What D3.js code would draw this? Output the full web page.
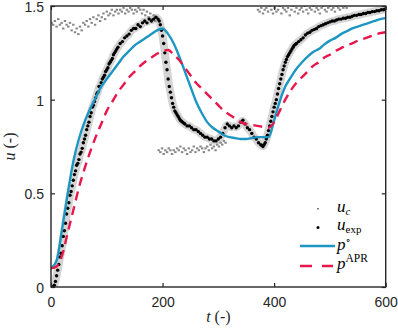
<!DOCTYPE html>
<html><head><meta charset="utf-8">
<script src="https://cdn.jsdelivr.net/npm/d3@7"></script>
<style>body{margin:0;background:#fff}svg{display:block}</style>
</head><body><svg id="c" width="398" height="331"></svg>
<script>
// ---- data ----
const xTicks = [0, 200, 400, 600];
const yTicks = [0, 0.5, 1, 1.5];
const yTickLabels = ["0", "0.5", "1", "1.5"];

// model curves sampled every 10 (t = 0..600)
const modelT = d3.range(0, 601, 10);
const pNom = [0.10,0.14,0.31,0.50,0.67,0.79,0.88,0.95,1.01,1.07,
  1.11,1.15,1.19,1.23,1.26,1.29,1.31,1.33,1.35,1.37,
  1.38,1.35,1.30,1.23,1.15,1.07,0.99,0.93,0.88,0.85,
  0.83,0.81,0.80,0.795,0.79,0.79,0.795,0.80,0.80,0.80,
  0.89,0.99,1.07,1.12,1.165,1.20,1.23,1.255,1.27,1.295,
  1.315,1.33,1.35,1.365,1.38,1.39,1.40,1.41,1.42,1.43,1.435];
const pAPR = [0.10,0.11,0.17,0.29,0.41,0.53,0.63,0.72,0.80,0.87,
  0.94,0.99,1.04,1.08,1.12,1.15,1.18,1.205,1.225,1.245,
  1.26,1.265,1.24,1.21,1.17,1.13,1.09,1.06,1.03,1.00,
  0.97,0.94,0.92,0.90,0.88,0.87,0.865,0.86,0.855,0.85,
  0.88,0.94,1.00,1.05,1.09,1.12,1.15,1.18,1.20,1.225,
  1.24,1.26,1.275,1.29,1.30,1.315,1.325,1.335,1.345,1.355,1.36];

// experimental data: sample times (denser where the response is steep)
const expT = [].concat(d3.range(0, 121, 2), d3.range(124, 193, 4), d3.range(194, 241, 2),
  d3.range(244, 377, 4), d3.range(378, 441, 2), d3.range(444, 601, 4));
const uExp = [
  0.00,0.00,0.00,0.01,0.03,0.06,0.09,0.12,0.16,0.18,
  0.22,0.27,0.30,0.34,0.39,0.42,0.45,0.49,0.51,0.54,
  0.57,0.60,0.62,0.65,0.66,0.68,0.71,0.72,0.74,0.77,
  0.79,0.81,0.84,0.86,0.88,0.91,0.93,0.96,0.97,0.99,
  1.01,1.03,1.04,1.07,1.07,1.09,1.11,1.12,1.13,1.15,
  1.16,1.17,1.19,1.20,1.21,1.22,1.24,1.25,1.26,1.27,
  1.28,
  1.30,1.31,1.33,1.34,1.35,1.37,1.38,1.38,1.40,1.39,1.41,1.42,1.41,1.43,1.42,1.43,1.44,1.43,
  1.42,1.40,1.37,1.34,1.30,1.25,1.20,1.16,1.11,1.07,1.04,1.01,0.98,0.96,0.94,0.93,
  0.92,0.91,0.90,0.89,0.885,0.88,0.875,0.87,
  0.86,0.86,0.85,0.84,0.84,0.83,0.82,0.81,0.80,0.80,0.79,0.79,0.78,0.78,0.79,0.80,0.82,
  0.85,0.87,0.86,0.85,0.86,0.85,0.86,0.88,0.89,0.87,0.85,0.84,0.82,0.80,0.79,0.77,0.76,
  0.755,0.75,0.76,0.77,0.79,0.81,0.835,0.86,0.885,0.91,0.935,0.96,0.98,1.00,1.03,1.06,
  1.085,1.11,1.135,1.16,1.18,1.20,1.215,1.23,1.24,1.25,1.26,1.27,1.28,1.29,1.295,1.30,
  1.31,1.32,1.33,1.345,1.355,1.36,1.37,1.375,1.38,1.39,1.395,1.40,1.405,1.41,1.415,1.42,
  1.42,1.425,1.43,1.43,1.435,1.435,1.44,1.44,1.445,1.45,1.45,1.455,1.455,1.46,1.46,1.465,
  1.465,1.47,1.47,1.475,1.475,1.48,1.48,1.485];

// control input u_c, three visible segments sampled every 3
const ucStart1 = 1, ucSeg1 = [1.41,1.40,1.42,1.39,1.43,1.40,1.41,1.38,1.42,1.40,
  1.39,1.41,1.37,1.40,1.36,1.38,1.35,1.39,1.37,1.41,
  1.40,1.42,1.39,1.43,1.41,1.44,1.40,1.43,1.45,1.42,
  1.44,1.46,1.43,1.47,1.45,1.46,1.48,1.45,1.47,1.48,
  1.46,1.48,1.47,1.49,1.46,1.48,1.47,1.49,1.48,1.46,
  1.48,1.47,1.49,1.48,1.46,1.48,1.45,1.47,1.44,1.46,
  1.43,1.45,1.42,1.44];
const ucStart2 = 193, ucSeg2 = [0.73,0.72,0.74,0.71,0.73,0.72,0.74,0.73,0.71,0.73,
  0.72,0.74,0.73,0.75,0.72,0.74,0.73,0.71,0.74,0.72,
  0.73,0.75,0.72,0.74,0.73,0.75,0.74,0.72,0.74,0.75,
  0.73,0.76,0.74,0.75,0.73,0.76,0.75,0.77,0.76,0.78,0.77];
const ucStart3 = 371, ucSeg3 = [1.48,1.47,1.49,1.46,1.48,1.49,1.47,1.50,1.48,1.46,
  1.49,1.47,1.48,1.50,1.46,1.49,1.48,1.47,1.49,1.45,
  1.48,1.50,1.47,1.49,1.46,1.48,1.49,1.47,1.50,1.48,
  1.46,1.49,1.48,1.50,1.47,1.49,1.48,1.46,1.49,1.50,
  1.48,1.47,1.49,1.50,1.48,1.49,1.47,1.50,1.49,1.48,
  1.50,1.49,1.50,1.49];

// ---- drawing ----
const svg = d3.select("#c");
const L = 51, R = 385.7, T = 6, B = 287;
const x = d3.scaleLinear().domain([0, 600]).range([L, R]);
const y = d3.scaleLinear().domain([0, 1.5]).range([B, T]);
const axisColor = "#262626";

svg.append("clipPath").attr("id", "clip").append("rect")
  .attr("x", L).attr("y", T).attr("width", R - L).attr("height", B - T);
const plot = svg.append("g").attr("clip-path", "url(#clip)");

const expPts = expT.map((t, i) => [t, uExp[i]]);
// shaded uncertainty band around experimental data
plot.append("path").datum(expPts)
  .attr("d", d3.line().x(d => x(d[0])).y(d => y(d[1])).curve(d3.curveBasis))
  .attr("fill", "none").attr("stroke", "#d4d4d4").attr("stroke-width", 8)
  .attr("stroke-linejoin", "round").attr("stroke-linecap", "round");

const ucPts = [];
[[ucStart1, ucSeg1], [ucStart2, ucSeg2], [ucStart3, ucSeg3]].forEach(([s, arr]) =>
  arr.forEach((v, i) => ucPts.push([s + 3 * i, v])));
plot.selectAll("rect.uc").data(ucPts).enter().append("rect").attr("class", "uc")
  .attr("x", d => x(d[0]) - 1.2).attr("y", d => y(d[1]) - 1)
  .attr("width", 2.4).attr("height", 2).attr("fill", "#878787");

plot.selectAll("circle.exp").data(expPts).enter().append("circle").attr("class", "exp")
  .attr("cx", d => x(d[0])).attr("cy", d => y(d[1])).attr("r", 1.7).attr("fill", "#000");

const line = d3.line().x(d => x(d[0])).y(d => y(d[1])).curve(d3.curveMonotoneX);
plot.append("path").datum(modelT.map((t, i) => [t, pNom[i]]))
  .attr("d", line).attr("fill", "none").attr("stroke", "#1e96c2").attr("stroke-width", 2.4);
plot.append("path").datum(modelT.map((t, i) => [t, pAPR[i]]))
  .attr("d", line).attr("fill", "none").attr("stroke", "#e8174b").attr("stroke-width", 2.4)
  .attr("stroke-dasharray", "9,6");

// axes
const tickFont = "'Liberation Sans', Arial, sans-serif";
const gx = svg.append("g").attr("transform", `translate(0,${B})`)
  .call(d3.axisBottom(x).tickValues(xTicks).tickSizeInner(-4).tickSizeOuter(0).tickPadding(10));
const gy = svg.append("g").attr("transform", `translate(${L},0)`)
  .call(d3.axisLeft(y).tickValues(yTicks).tickFormat((d, i) => yTickLabels[i]).tickSizeInner(-4).tickSizeOuter(0).tickPadding(7));
const gt = svg.append("g").attr("transform", `translate(0,${T})`)
  .call(d3.axisTop(x).tickValues(xTicks).tickSizeInner(-4).tickSizeOuter(0).tickFormat(""));
const gr = svg.append("g").attr("transform", `translate(${R},0)`)
  .call(d3.axisRight(y).tickValues(yTicks).tickSizeInner(-4).tickSizeOuter(0).tickFormat(""));
[gx, gy, gt, gr].forEach(g => {
  g.select(".domain").remove();
  g.selectAll("line").attr("stroke", axisColor).attr("stroke-width", 1.2);
  g.selectAll("text").attr("fill", axisColor).style("font-family", tickFont).style("font-size", "14px");
});
gy.selectAll("text").attr("dy", "0.4em");
svg.append("rect").attr("x", L).attr("y", T).attr("width", R - L).attr("height", B - T)
  .attr("fill", "none").attr("stroke", axisColor).attr("stroke-width", 1.4);

// axis labels
const lserif = "'Liberation Serif', 'DejaVu Serif', serif";
const xl = svg.append("text").attr("x", (L + R) / 2).attr("y", 322).attr("text-anchor", "middle")
  .style("font-family", lserif).style("font-size", "16px").attr("fill", axisColor);
xl.append("tspan").style("font-style", "italic").text("t");
xl.append("tspan").text(" (-)");
const yl = svg.append("text").attr("transform", `translate(15,${(T + B) / 2}) rotate(-90)`)
  .attr("text-anchor", "middle").style("font-family", lserif).style("font-size", "16px").attr("fill", axisColor);
yl.append("tspan").style("font-style", "italic").text("u");
yl.append("tspan").text(" (-)");

// legend
const lg = svg.append("g").style("font-family", lserif).attr("fill", "#000");
const lx = 337;
lg.append("rect").attr("x", 317).attr("y", 208).attr("width", 2).attr("height", 1.6).attr("fill", "#878787");
let t1 = lg.append("text").attr("x", lx).attr("y", 212).style("font-size", "17px");
t1.append("tspan").style("font-style", "italic").text("u");
t1.append("tspan").attr("dy", 2.5).style("font-size", "11px").style("font-style", "italic").text("c");
lg.append("circle").attr("cx", 318).attr("cy", 227.5).attr("r", 1.5).attr("fill", "#000");
let t2 = lg.append("text").attr("x", lx).attr("y", 230).style("font-size", "17px");
t2.append("tspan").style("font-style", "italic").text("u");
t2.append("tspan").attr("dy", 2.5).style("font-size", "11px").text("exp");
lg.append("line").attr("x1", 300).attr("x2", 335).attr("y1", 246).attr("y2", 246)
  .attr("stroke", "#1e96c2").attr("stroke-width", 2.4);
let t3 = lg.append("text").attr("x", lx).attr("y", 250).style("font-size", "17px");
t3.append("tspan").style("font-style", "italic").text("p");
t3.append("tspan").attr("dy", -6).style("font-size", "11px").text("\u2218");
lg.append("line").attr("x1", 300).attr("x2", 333).attr("y1", 266).attr("y2", 266)
  .attr("stroke", "#e8174b").attr("stroke-width", 2.4).attr("stroke-dasharray", "12,10");
let t4 = lg.append("text").attr("x", lx).attr("y", 269).style("font-size", "17px");
t4.append("tspan").style("font-style", "italic").text("p");
t4.append("tspan").attr("dy", -7).style("font-size", "11.5px").text("APR");
</script></body></html>
